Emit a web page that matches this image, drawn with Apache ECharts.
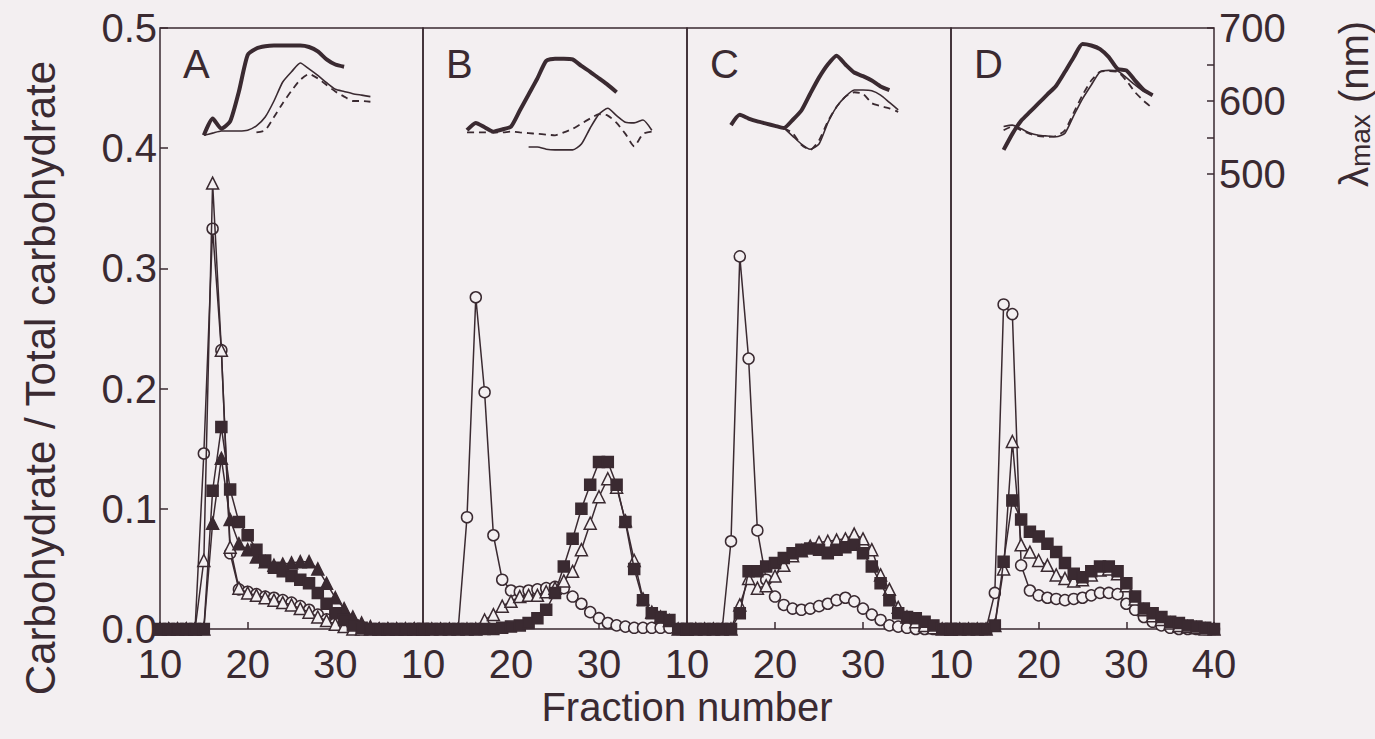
<!DOCTYPE html>
<html>
<head>
<meta charset="utf-8">
<script src="https://cdn.jsdelivr.net/npm/echarts@6/dist/echarts.min.js"></script>
<style>
html,body{margin:0;padding:0;background:#f3eff1;}
#chart{width:1375px;height:739px;}
</style>
</head>
<body>
<div id="chart"></div>
<script>
// ---------- DATA ----------
const fractions = [10,11,12,13,14,15,16,17,18,19,20,21,22,23,24,25,26,27,28,29,30,31,32,33,34,35,36,37,38,39,40];
const panelLabels = ['A','B','C','D'];
const lambdaTickLabels = [500, 600, 700];

// Panel A
const A_circle = [0,0,0,0,0,0.146,0.333,0.232,0.063,0.033,
  0.031,0.029,0.027,0.026,0.024,0.022,0.019,0.016,0.012,0.008,
  0.005,0.002,0.001,0,0,0,0,0,0,0,0];
const A_triOpen = [0,0,0,0,0,0.057,0.371,0.232,0.068,0.034,
  0.030,0.028,0.026,0.024,0.022,0.020,0.017,0.014,0.010,0.007,
  0.004,0.002,0,0,0,0,0,0,0,0,0];
const A_square = [0,0,0,0,0,0,0.115,0.168,0.116,0.089,
  0.078,0.066,0.057,0.051,0.048,0.044,0.041,0.038,0.030,0.021,
  0.013,0.0075,0.003,0.001,0,0,0,0,0,0,0];
const A_triFilled = [0,0,0,0,0,0,0.088,0.142,0.091,0.071,
  0.066,0.060,0.056,0.053,0.054,0.055,0.056,0.056,0.050,0.038,
  0.026,0.017,0.010,0.005,0.002,0,0,0,0,0,0];

// Panel B
const B_circle = [0,0,0,0,0,0.093,0.276,0.197,0.078,0.041,
  0.032,0.031,0.032,0.033,0.034,0.035,0.034,0.027,0.021,0.014,
  0.009,0.005,0.003,0.002,0.001,0.001,0.001,0.001,0.001,0,0];
const B_triOpen = [0,0,0,0,0,0,0,0.0075,0.012,0.019,
  0.023,0.027,0.028,0.028,0.031,0.034,0.040,0.048,0.066,0.088,
  0.110,0.125,0.118,0.090,0.057,0.025,0.014,0.010,0.007,0,0];
const B_square = [0,0,0,0,0,0,0,0,0,0.001,
  0.002,0.003,0.005,0.009,0.016,0.030,0.052,0.075,0.100,0.120,
  0.139,0.139,0.120,0.089,0.050,0.024,0.013,0.010,0.0075,0,0];

// Panel C
const C_circle = [0,0,0,0,0,0.073,0.310,0.225,0.082,0.041,
  0.027,0.020,0.017,0.016,0.017,0.019,0.021,0.024,0.026,0.023,
  0.017,0.012,0.0075,0.003,0.002,0.001,0,0,0,0,0];
const C_triOpen = [0,0,0,0,0,0,0.020,0.042,0.034,0.036,
  0.044,0.053,0.061,0.065,0.069,0.072,0.073,0.074,0.075,0.079,
  0.075,0.066,0.045,0.033,0.018,0.010,0.006,0.003,0.001,0,0];
const C_square = [0,0,0,0,0,0,0.013,0.048,0.048,0.052,
  0.055,0.059,0.063,0.066,0.067,0.066,0.063,0.066,0.068,0.070,
  0.063,0.052,0.038,0.024,0.013,0.010,0.009,0.006,0.003,0,0];

// Panel D
const D_circle = [0,0,0,0,0,0.030,0.270,0.262,0.053,0.032,
  0.028,0.026,0.025,0.024,0.025,0.026,0.028,0.030,0.030,0.029,
  0.021,0.016,0.010,0.006,0.003,0.001,0,0,0,0,0];
const D_triOpen = [0,0,0,0,0,0.003,0.050,0.156,0.070,0.064,
  0.057,0.053,0.045,0.042,0.040,0.041,0.045,0.049,0.050,0.046,
  0.036,0.025,0.016,0.011,0.008,0.005,0.003,0.002,0.001,0,0];
const D_square = [0,0,0,0,0,0.003,0.056,0.107,0.091,0.081,
  0.077,0.071,0.064,0.055,0.046,0.043,0.048,0.052,0.052,0.048,
  0.038,0.027,0.017,0.013,0.010,0.006,0.005,0.003,0.002,0.001,0];

// Inset lambda-max curves [fraction, nm]
const A_lamThick = [[15,553],[16,576],[17,562],[18,572],[19,613],[20,663],[21,672],[22,675],[23,676],[24,676],[25,676],[26,676],[27,674],[28,668],[29,657],[30,650],[31,647]];
const A_lamThin = [[15,553],[16,556],[17,559],[18,559],[19,559],[20,560],[21,566],[22,578],[23,600],[24,626],[25,640],[26,652],[27,644],[28,635],[29,625],[30,616],[31,613],[32,610],[33,608],[34,606]];
const A_lamDash = [[21,557],[22,560],[23,578],[24,597],[25,614],[26,629],[27,637],[28,631],[29,622],[30,613],[31,606],[32,600],[33,600],[34,599]];

const B_lamThick = [[15,560],[16,570],[17,564],[18,558],[19,561],[20,565],[21,587],[22,609],[23,631],[24,655],[25,658],[26,658],[27,657],[28,648],[29,640],[30,631],[31,622],[32,612]];
const B_lamThin = [[22,537],[23,537],[24,534],[25,533],[26,533],[27,533],[28,541],[29,563],[30,582],[31,590],[32,580],[33,571],[34,570],[35,574],[36,560]];
const B_lamDash = [[15,557],[16,557],[17,557],[18,557],[19,557],[20,558],[21,557],[22,556],[23,555],[24,554],[25,553],[26,557],[27,562],[28,569],[29,576],[30,582],[31,580],[32,570],[33,555],[34,538],[35,555],[36,558]];

const C_lamThick = [[15,567],[16,581],[17,576],[18,572],[19,569],[20,566],[21,563],[22,574],[23,587],[24,610],[25,632],[26,650],[27,662],[28,650],[29,639],[30,634],[31,628],[32,620],[33,615]];
const C_lamThin = [[21,563],[22,552],[23,541],[24,534],[25,541],[26,570],[27,592],[28,606],[29,615],[30,615],[31,614],[32,608],[33,598],[34,588]];
const C_lamDash = [[21,563],[22,556],[23,540],[24,533],[25,546],[26,572],[27,592],[28,606],[29,612],[30,610],[31,597],[32,593],[33,590],[34,585]];

const D_lamThick = [[16,533],[17,555],[18,573],[19,585],[20,597],[21,609],[22,621],[23,640],[24,660],[25,678],[26,676],[27,671],[28,660],[29,644],[30,642],[31,628],[32,615],[33,608]];
const D_lamThin = [[16,565],[17,567],[18,562],[19,556],[20,553],[21,552],[22,551],[23,556],[24,580],[25,603],[26,622],[27,640],[28,642],[29,641],[30,632],[31,622],[32,613],[33,609]];
const D_lamDash = [[16,560],[17,565],[18,560],[19,555],[20,552],[21,551],[22,552],[23,560],[24,584],[25,608],[26,628],[27,640],[28,641],[29,640],[30,628],[31,612],[32,600],[33,590]];

// ---------- LAYOUT / STYLE ----------
const INK = '#3a2a31';
const BG = '#f3eff1';
const FONT = '"Liberation Sans", Arial, Helvetica, sans-serif';
const FS = 40;
const panelLefts = [160, 423, 687, 951];
const panelWidths = [263, 264, 264, 263];
const TOP = 28, MAIN_H = 601, INSET_H = 146;

const mainSets = [
  {circle:A_circle, triOpen:A_triOpen, triFilled:A_triFilled, square:A_square},
  {circle:B_circle, triOpen:B_triOpen, square:B_square},
  {circle:C_circle, triOpen:C_triOpen, square:C_square},
  {circle:D_circle, triOpen:D_triOpen, square:D_square}
];
const insetSets = [
  {thick:A_lamThick, thin:A_lamThin, dash:A_lamDash},
  {thick:B_lamThick, thin:B_lamThin, dash:B_lamDash},
  {thick:C_lamThick, thin:C_lamThin, dash:C_lamDash},
  {thick:D_lamThick, thin:D_lamThin, dash:D_lamDash}
];

const symbolStyles = {
  circle:   {symbol:'circle',   fill:BG,  size:11},
  triOpen:  {symbol:'triangle', fill:BG,  size:12},
  triFilled:{symbol:'triangle', fill:INK, size:12},
  square:   {symbol:'rect',     fill:INK, size:11}
};

const grids = [], xAxes = [], yAxes = [], series = [], graphics = [];

for (let i = 0; i < 4; i++) {
  grids.push({left:panelLefts[i], top:TOP, width:panelWidths[i], height:MAIN_H,
    show:true, borderColor:INK, borderWidth:1.5, backgroundColor:'transparent'});
  xAxes.push({type:'value', gridIndex:i, min:10, max:40, interval:10,
    axisLine:{show:false},
    axisTick:{show:true, inside:true, length:7, lineStyle:{color:INK, width:1.5}},
    splitLine:{show:false},
    axisLabel:{show:true, color:INK, fontSize:FS, fontFamily:FONT, margin:20, lineHeight:30,
      showMinLabel:true, showMaxLabel:true,
      formatter: (v) => (v === 40 && i < 3) ? '' : String(v)}
  });
  yAxes.push({type:'value', gridIndex:i, min:0, max:0.5, interval:0.1,
    axisLine:{show:false},
    axisTick:{show:i===0, inside:true, length:8, lineStyle:{color:INK, width:1.5}},
    splitLine:{show:false},
    axisLabel:{show:i===0, color:INK, fontSize:FS, fontFamily:FONT, margin:3, lineHeight:28,
      formatter:(v)=>v.toFixed(1)}
  });
}
for (let i = 0; i < 4; i++) {
  grids.push({left:panelLefts[i], top:TOP, width:panelWidths[i], height:INSET_H, show:false});
  xAxes.push({type:'value', gridIndex:4+i, min:10, max:40, show:false});
  const isD = i === 3;
  yAxes.push({type:'value', gridIndex:4+i, min:500, max:700, interval:50,
    show:isD, position:'right',
    axisLine:{show:false},
    axisTick:{show:isD, inside:true, length:7, lineStyle:{color:INK, width:1.5}},
    splitLine:{show:false},
    axisLabel:{show:isD, color:INK, fontSize:FS, fontFamily:FONT, margin:5,
      showMinLabel:true, showMaxLabel:true,
      formatter:(v)=> lambdaTickLabels.indexOf(v) >= 0 ? String(v) : ''}
  });
}

const order = ['circle','triOpen','triFilled','square'];
for (let i = 0; i < 4; i++) {
  order.forEach((k, idx) => {
    const arr = mainSets[i][k];
    if (!arr) return;
    const s = symbolStyles[k];
    series.push({
      type:'line', name:panelLabels[i]+'-'+k, xAxisIndex:i, yAxisIndex:i,
      data: fractions.map((f, j) => [f, arr[j]]),
      symbol:s.symbol, symbolSize:s.size, showSymbol:true, clip:false,
      itemStyle:{color:s.fill, borderColor:INK, borderWidth:1.5},
      lineStyle:{color:INK, width:1.5},
      z: 3 + idx, animation:false
    });
  });
  const ins = insetSets[i];
  series.push({type:'line', xAxisIndex:4+i, yAxisIndex:4+i, data:ins.thin, symbol:'none', smooth:0.2,
    lineStyle:{color:INK, width:1.6}, z:2, animation:false});
  series.push({type:'line', xAxisIndex:4+i, yAxisIndex:4+i, data:ins.dash, symbol:'none', smooth:0.2,
    lineStyle:{color:INK, width:1.8, type:[7,5]}, z:2, animation:false});
  series.push({type:'line', xAxisIndex:4+i, yAxisIndex:4+i, data:ins.thick, symbol:'none', smooth:0.2,
    lineStyle:{color:INK, width:4}, z:2, animation:false});

  graphics.push({type:'text', left:panelLefts[i] + 23, top:44,
    style:{text:panelLabels[i], fill:INK, font:'40px ' + FONT}});
}

graphics.push({type:'text', x:40, y:378, rotation:Math.PI/2,
  style:{text:'Carbohydrate / Total carbohydrate', fill:INK, font:'42px ' + FONT,
    align:'center', verticalAlign:'middle'}});
graphics.push({type:'text', x:687, y:707,
  style:{text:'Fraction number', fill:INK, font:'40px ' + FONT,
    align:'center', verticalAlign:'middle'}});
graphics.push({type:'text', x:1354, y:104, rotation:Math.PI/2,
  style:{text:'{l|λ}{s|max}{l| (nm)}', fill:INK, font:'40px ' + FONT,
    align:'center', verticalAlign:'middle',
    rich:{l:{fontSize:40, fontFamily:FONT, fill:INK}, s:{fontSize:28, fontFamily:FONT, fill:INK, padding:[12,0,0,0]}}}});

const chart = echarts.init(document.getElementById('chart'), null, {renderer:'svg'});
chart.setOption({
  backgroundColor:BG,
  animation:false,
  grid:grids, xAxis:xAxes, yAxis:yAxes, series:series,
  graphic:graphics
});
</script>
</body>
</html>
